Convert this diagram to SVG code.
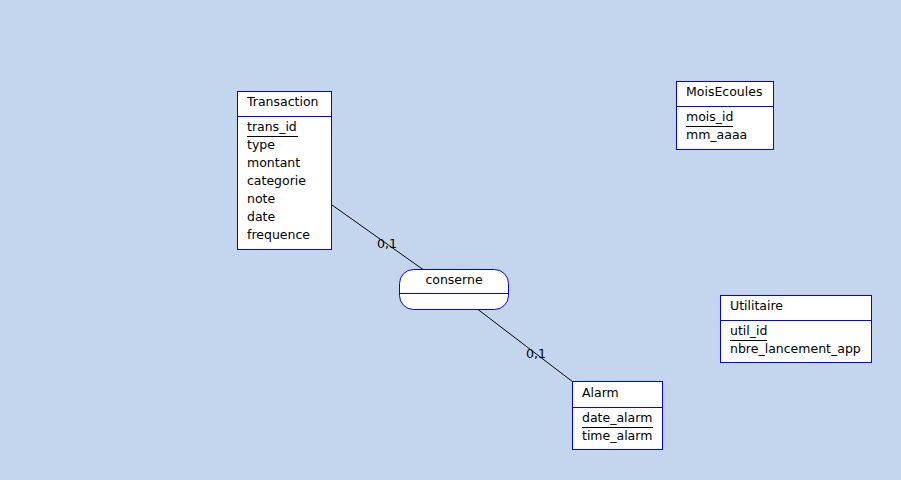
<svg xmlns="http://www.w3.org/2000/svg" width="901" height="480" viewBox="0 0 901 480">
<style>
.box{fill:#ffffff;stroke:#0000ff;stroke-width:1}
.div{stroke:#0000ff;stroke-width:1;fill:none}
.ul{stroke:#000000;stroke-width:1;fill:none}
.link{stroke:#000000;stroke-width:1;fill:none}
text{font-family:"DejaVu Sans",Verdana,sans-serif;font-size:12.5px;fill:#000000}
.mid{text-anchor:middle}
</style>
<rect x="0" y="0" width="901" height="480" fill="#c3d6ed"/>
<g id="connectors">
<line class="link" x1="332" y1="205" x2="423" y2="269.5"/>
<line class="link" x1="478" y1="309.5" x2="573" y2="382"/>
<text x="377" y="248">0,1</text>
<text x="526" y="358">0,1</text>
</g>
<g id="Transaction">
<rect class="box" x="237.5" y="91.5" width="94" height="158"/>
<line class="div" x1="237.5" y1="116.5" x2="331.5" y2="116.5"/>
<text x="247" y="106">Transaction</text>
<text x="247" y="131">trans_id</text>
<line class="ul" x1="247" y1="136.5" x2="298" y2="136.5"/>
<text x="247" y="149">type</text>
<text x="247" y="167">montant</text>
<text x="247" y="185">categorie</text>
<text x="247" y="203">note</text>
<text x="247" y="221">date</text>
<text x="247" y="239">frequence</text>
</g>
<g id="conserne">
<rect class="box" x="399.5" y="269.5" width="109" height="40" rx="14" ry="14"/>
<line class="div" x1="399.5" y1="293.5" x2="508.5" y2="293.5"/>
<text class="mid" x="454" y="284">conserne</text>
</g>
<g id="Alarm">
<rect class="box" x="572.5" y="381.5" width="90" height="68"/>
<line class="div" x1="572.5" y1="407.5" x2="662.5" y2="407.5"/>
<text x="582" y="397">Alarm</text>
<text x="582" y="422">date_alarm</text>
<line class="ul" x1="582" y1="427.5" x2="653" y2="427.5"/>
<text x="582" y="440">time_alarm</text>
</g>
<g id="MoisEcoules">
<rect class="box" x="676.5" y="81.5" width="97" height="68"/>
<line class="div" x1="676.5" y1="106.5" x2="773.5" y2="106.5"/>
<text x="686" y="96">MoisEcoules</text>
<text x="686" y="121">mois_id</text>
<line class="ul" x1="686" y1="126.5" x2="733" y2="126.5"/>
<text x="686" y="139">mm_aaaa</text>
</g>
<g id="Utilitaire">
<rect class="box" x="720.5" y="295.5" width="151" height="67"/>
<line class="div" x1="720.5" y1="320.5" x2="871.5" y2="320.5"/>
<text x="730" y="310">Utilitaire</text>
<text x="730" y="335">util_id</text>
<line class="ul" x1="730" y1="340.5" x2="767" y2="340.5"/>
<text x="730" y="353">nbre_lancement_app</text>
</g>
</svg>
